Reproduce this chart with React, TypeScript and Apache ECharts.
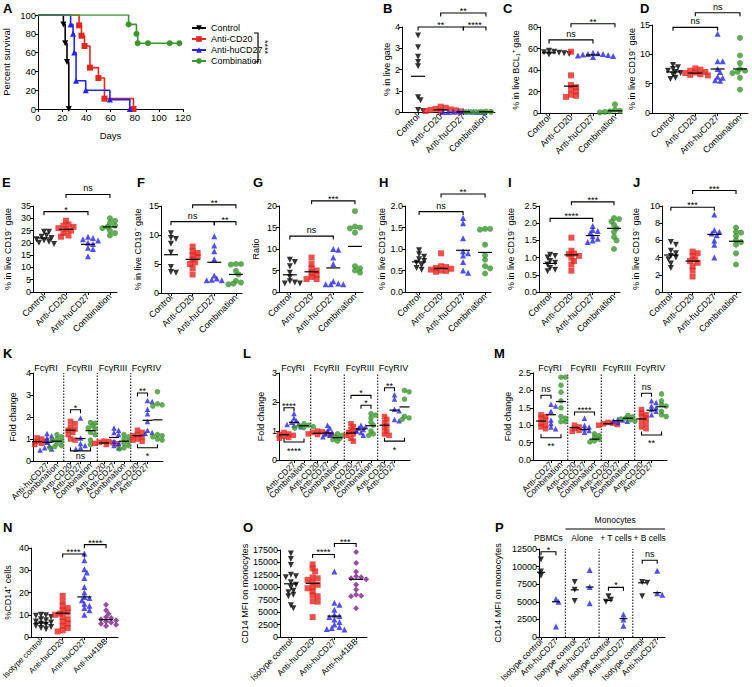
import React, { useEffect, useRef } from 'react';
import * as echarts from 'echarts';

const FONT = '"Liberation Sans", Arial, Helvetica, sans-serif';
const BLACK = '#000000';
const RED = '#e5261f';
const BLUE = '#2424ee';
const GREEN = '#3b962e';
const PURPLE = '#7d1f8a';

// ---------------- Panel A: survival ([day, percent]) ----------------
const survNames = ['Control', 'Anti-CD20', 'Anti-huCD27', 'Combination'];
const survControl = [[0, 100], [21, 90], [22.5, 70], [24, 50], [25.5, 0]];
const survCD20 = [[0, 100], [34, 89], [36, 78], [38.5, 67], [43, 44], [50, 33], [55, 11], [79, 0]];
const survCD27 = [[0, 100], [27, 90], [29, 80], [30, 60], [31.5, 30], [39.5, 20], [59.5, 10], [76, 0]];
const survCombo = [[0, 100], [75, 90], [81.5, 80], [82.5, 70], [91, 70], [109, 70], [117, 70]];

// ---------------- Rows 1-2: four treatment groups ----------------
const groups4 = ['Control', 'Anti-CD20', 'Anti-huCD27', 'Combination'];

const bControl = [3.6, 3.05, 2.6, 2.35, 2.15, 0.7, 0.55, 0.1, 0.05];
const bCD20 = [0.25, 0.2, 0.15, 0.12, 0.1, 0.08, 0.05, 0.05, 0.03];
const bCD27 = [0.03, 0.02, 0.02, 0.01, 0.01, 0.0, 0.0, 0.0, 0.0];
const bCombo = [0.02, 0.01, 0.01, 0.0, 0.0, 0.0, 0.0, 0.0, 0.0];
const bMeans = [1.68, 0.1, 0.01, 0.01];
const bBrackets: [number, number, number, string, number][] = [[0, 2, 4.0, '**', 1], [2, 3, 4.0, '****', 1], [1, 3, 4.66, '**', 1]];

const cControl = [58, 57, 56.5, 56, 55.5, 55, 55, 54.5, 56];
const cCD20 = [57, 35, 26, 24, 22, 20, 17, 15, 16];
const cCD27 = [56, 55.5, 55, 54.5, 54, 53, 52, 55, 53.5];
const cCombo = [8, 3, 2, 1.5, 1.2, 1, 0.5, 0.8];
const cMeans = [56, 25, 54, 2];
const cBrackets: [number, number, number, string, number][] = [[0, 2, 68, 'ns', 1], [1, 3, 83, '**', 1]];

const dControl = [8.2, 7.8, 7.5, 7.2, 7.0, 6.8, 6.5, 6.0, 5.8];
const dCD20 = [7.6, 7.4, 7.2, 7.0, 6.9, 6.8, 6.6, 6.5, 6.4];
const dCD27 = [13.5, 8.8, 8.8, 7.5, 7.0, 6.0, 5.6, 5.5, 6.2];
const dCombo = [12.8, 9.8, 8.5, 7.5, 7.2, 7.0, 6.8, 6.0, 4.0];
const dMeans = [7.0, 6.8, 7.5, 7.5];
const dBrackets: [number, number, number, string, number][] = [[0, 2, 14.6, 'ns', 1], [1, 3, 17.1, 'ns', 1]];

const eControl = [24.5, 24.5, 23, 22.5, 22, 21.5, 21, 20.5, 20, 19.5];
const eCD20 = [29, 27.5, 27, 26.5, 26, 25.5, 25, 24, 23, 22.5];
const eCD27 = [22.5, 22, 21.5, 21, 20, 19.5, 18, 17.5, 14.5];
const eCombo = [30, 29, 28, 27, 26.5, 26, 25, 24, 23];
const eMeans = [22, 25.5, 19.4, 26.5];
const eBrackets: [number, number, number, string, number][] = [[0, 2, 32.7, '*', 1], [1, 3, 39.7, 'ns', 1]];

const fControl = [10.3, 9.5, 9.3, 8.5, 7.0, 4.5, 3.6, 3.5];
const fCD20 = [8.0, 7.2, 6.9, 6.5, 6.2, 5.8, 5.3, 5.0, 4.3, 3.2];
const fCD27 = [9.8, 8.2, 7.2, 5.8, 3.0, 2.5, 2.3, 2.2, 2.2];
const fCombo = [5.0, 5.0, 4.9, 3.8, 3.2, 2.1, 1.8, 1.6, 1.5];
const fMeans = [6.6, 5.8, 5.3, 3.2];
const fBrackets: [number, number, number, string, number][] = [[0, 2, 12.3, 'ns', 1], [2, 3, 12.3, '**', 1], [1, 3, 15.2, '**', 1]];

const gControl = [7.5, 7.0, 6.0, 4.5, 3.5, 2.5, 2.2, 2.0, 2.0];
const gCD20 = [8.0, 6.5, 5.5, 5.0, 4.5, 4.0, 3.5, 3.0, 3.0];
const gCD27 = [10.0, 9.8, 8.0, 6.5, 2.5, 2.0, 1.8, 1.8, 1.8];
const gCombo = [18.8, 15.2, 15.0, 14.8, 13.8, 6.0, 5.5, 5.0, 4.5];
const gMeans = [4.0, 4.7, 5.6, 10.6];
const gBrackets: [number, number, number, string, number][] = [[0, 2, 13.0, 'ns', 1], [1, 3, 21.2, '***', 1]];

const hControl = [0.97, 0.88, 0.82, 0.76, 0.72, 0.68, 0.62, 0.56, 0.52];
const hCD20 = [0.9, 0.6, 0.58, 0.56, 0.54, 0.52, 0.5, 0.49, 0.47];
const hCD27 = [1.72, 1.6, 1.25, 0.95, 0.9, 0.85, 0.7, 0.5, 0.45];
const hCombo = [1.47, 1.47, 1.45, 1.1, 0.85, 0.75, 0.6, 0.55, 0.43];
const hMeans = [0.7, 0.55, 0.97, 0.92];
const hBrackets: [number, number, number, string, number][] = [[0, 2, 1.87, 'ns', 1], [1, 3, 2.28, '**', 1]];

const iControl = [1.08, 1.05, 1.0, 0.9, 0.85, 0.8, 0.7, 0.65, 0.6];
const iCD20 = [1.58, 1.2, 1.12, 1.1, 1.05, 1.0, 0.9, 0.8, 0.62];
const iCD27 = [1.92, 1.8, 1.77, 1.72, 1.62, 1.55, 1.5, 1.45];
const iCombo = [2.15, 2.12, 2.05, 1.95, 1.85, 1.75, 1.6, 1.5, 1.25];
const iMeans = [0.83, 1.08, 1.64, 1.85];
const iBrackets: [number, number, number, string, number][] = [[0, 2, 2.14, '****', 1], [1, 3, 2.62, '***', 1]];

const jControl = [5.8, 5.5, 4.8, 4.5, 4.2, 4.0, 3.8, 3.3, 2.8];
const jCD20 = [4.7, 4.5, 4.2, 3.8, 3.6, 3.4, 3.0, 2.5, 1.8];
const jCD27 = [9.0, 7.2, 7.0, 6.8, 6.6, 6.0, 5.5, 4.0];
const jCombo = [7.5, 7.0, 6.9, 6.5, 6.0, 5.8, 5.5, 4.5, 3.2];
const jMeans = [4.3, 3.6, 6.7, 5.9];
const jBrackets: [number, number, number, string, number][] = [[0, 2, 9.85, '***', 1], [1, 3, 11.8, '***', 1]];

// ---------------- Row 3: Fc gamma receptors (per receptor RI, RII, RIII, RIV) ----------------
const fcReceptors = ['FcγRI', 'FcγRII', 'FcγRIII', 'FcγRIV'];
const kLabels = ['Anti-CD20', 'Anti-huCD27', 'Combination', 'Anti-CD20', 'Anti-CD27', 'Combination', 'Anti-CD20', 'Anti-CD27', 'Combination', 'Anti-CD20', 'Anti-CD27', 'Combination'];
const lmLabels = ['Anti-CD20', 'Anti-CD27', 'Combination', 'Anti-CD20', 'Anti-CD27', 'Combination', 'Anti-CD20', 'Anti-CD27', 'Combination', 'Anti-CD20', 'Anti-CD27', 'Combination'];

const kCD20 = [[1.05, 1.0, 0.95, 0.9, 0.88, 0.85, 0.8, 0.75, 0.72], [1.8, 1.7, 1.55, 1.45, 1.4, 1.3, 1.2, 1.0, 0.95], [0.9, 0.88, 0.85, 0.82, 0.8, 0.78, 0.75], [1.4, 1.3, 1.2, 1.15, 1.1, 1.0, 0.95, 0.9]];
const kCD27 = [[1.25, 1.15, 1.05, 0.95, 0.85, 0.7, 0.6, 0.55, 0.5], [1.95, 1.05, 0.8, 0.7, 0.6, 0.55], [1.5, 1.4, 1.3, 1.2, 0.9, 0.8, 0.7, 0.6], [2.75, 2.7, 2.35, 2.15, 1.8, 1.4, 1.3, 1.25]];
const kCombo = [[1.2, 1.1, 1.0, 0.95, 0.9, 0.8, 0.7, 0.65, 0.6], [1.75, 1.72, 1.6, 1.5, 1.45, 1.3, 1.2, 0.95, 0.75], [1.2, 1.1, 1.0, 0.9, 0.8, 0.7, 0.6, 0.55], [3.15, 2.6, 2.55, 2.5, 2.45, 1.2, 1.15, 1.1, 1.0, 0.95]];
const kMeans = [[0.88, 0.85, 0.9], [1.4, 1.02, 1.38], [0.82, 1.07, 0.9], [1.15, 1.85, 1.87]];
// [receptor, fromIdx, toIdx, y, label, dir]
const kBrackets: [number, number, number, number, string, number][] = [[1, 0, 1, 2.33, '*', 1], [1, 0, 2, 0.46, 'ns', -1], [3, 0, 1, 3.09, '**', 1], [3, 0, 2, 0.6, '*', -1]];

const lCD20 = [[0.95, 0.9, 0.88, 0.85, 0.82, 0.8, 0.78, 0.75], [1.0, 0.97, 0.95, 0.92, 0.9, 0.88, 0.86], [1.25, 1.15, 1.05, 1.0, 0.95, 0.9, 0.85, 0.75, 0.65], [1.5, 1.4, 1.3, 1.2, 1.1, 1.0, 0.9, 0.85]];
const lCD27 = [[1.6, 1.45, 1.35, 1.3, 1.25, 1.22, 1.2, 1.15], [1.2, 1.1, 1.0, 0.95, 0.9, 0.85, 0.8], [1.2, 1.15, 1.1, 1.05, 1.0, 0.95, 0.85], [2.25, 2.1, 1.75, 1.7, 1.4, 1.35]];
const lCombo = [[1.25, 1.2, 1.18, 1.15, 1.12, 1.1], [0.9, 0.85, 0.8, 0.75, 0.7, 0.65], [1.6, 1.55, 1.45, 1.3, 1.2, 1.0, 0.9, 0.85], [2.4, 2.35, 2.1, 1.5, 1.45, 1.4]];
const lMeans = [[0.87, 1.3, 1.18], [0.92, 0.93, 0.77], [0.93, 1.07, 1.18], [1.2, 1.72, 1.83]];
const lBrackets: [number, number, number, number, string, number][] = [[0, 0, 1, 1.8, '****', 1], [0, 0, 2, 0.62, '****', -1], [2, 0, 2, 2.23, '*', 1], [2, 1, 2, 1.89, '*', 1], [3, 0, 1, 2.49, '**', 1], [3, 0, 2, 0.65, '*', -1]];

const mCD20 = [[1.3, 1.25, 1.2, 1.15, 1.05, 1.0, 0.95, 0.9], [1.0, 0.95, 0.9, 0.85, 0.82], [1.08, 1.06, 1.04, 1.02, 1.0], [1.45, 1.35, 1.3, 1.25, 1.2, 1.1, 1.05, 0.95, 0.9]];
const mCD27 = [[1.6, 1.55, 1.4, 1.15, 1.05, 0.95, 0.9], [1.2, 1.0, 0.95, 0.9, 0.85, 0.8], [1.18, 1.15, 1.13, 1.11, 1.08], [1.7, 1.65, 1.55, 1.5, 1.45, 1.4, 1.3]];
const mCombo = [[2.38, 2.38, 2.15, 1.95, 1.7, 1.5, 1.25, 1.2, 1.1, 1.1], [0.75, 0.7, 0.65, 0.6, 0.55, 0.52], [1.28, 1.24, 1.2, 1.18, 1.15, 1.12], [1.9, 1.7, 1.6, 1.55, 1.4, 1.3, 1.25]];
const mMeans = [[1.12, 1.3, 1.68], [0.93, 0.88, 0.6], [1.04, 1.13, 1.2], [1.18, 1.43, 1.53]];
const mBrackets: [number, number, number, number, string, number][] = [[0, 0, 1, 1.86, 'ns', 1], [0, 0, 2, 0.64, '**', -1], [1, 0, 2, 1.38, '****', 1], [3, 0, 1, 1.92, 'ns', 1], [3, 0, 2, 0.72, '**', -1]];

// ---------------- Row 4 ----------------
const humanGroups = ['Isotype control', 'Anti-huCD20', 'Anti-huCD27', 'Anti-hu41BB'];
const nIso = [10, 9.8, 9.5, 9, 8, 7.5, 7, 6.5, 6, 5.5, 5, 4.5, 4, 3.5];
const nCD20 = [18.5, 16, 14, 13, 12, 11, 10.5, 10, 9, 8, 7, 6, 5, 4, 3, 2.5];
const nCD27 = [37.5, 34.5, 30.5, 29, 26.5, 22.5, 20, 18, 17.5, 16.5, 15, 14, 13, 12, 10];
const n41BB = [14.5, 12, 10.5, 9, 8.5, 8, 7.5, 7, 6.5, 6, 5.5, 5];
const nMeans = [6.3, 10.7, 18, 7.8];
const nBrackets: [number, number, number, string, number][] = [[1, 2, 37.3, '****', 1], [2, 3, 41.5, '****', 1]];

const oIso = [16800, 15700, 14500, 12500, 12200, 12000, 11000, 10500, 10000, 9300, 9000, 8500, 8200, 6400, 5800];
const oCD20 = [14600, 13800, 13200, 12000, 11800, 11500, 11000, 10500, 10000, 9800, 9200, 8400, 8200, 7200, 7100, 4000];
const oCD27 = [13200, 6900, 6500, 5500, 4500, 4200, 4000, 3500, 3000, 2500, 2000, 1800, 1600, 1500];
const o41BB = [17100, 14900, 13100, 12200, 12000, 11800, 11600, 10500, 9500, 8500, 8300, 8200, 5800];
const oMeans = [10700, 10800, 4200, 11600];
const oBrackets: [number, number, number, string, number][] = [[1, 2, 16600, '****', 1], [2, 3, 18800, '***', 1]];

const pConditions = ['PBMCs', 'Alone', '+ T cells', '+ B cells'];
const pLabels = ['Isotype control', 'Anti-huCD27', 'Isotype control', 'Anti-huCD27', 'Isotype control', 'Anti-huCD27', 'Isotype control', 'Anti-huCD27'];
const pIso = [[11000, 9300, 8700], [7800, 6700, 5100], [5800, 5300, 5000], [7800, 7700, 5800]];
const pCD27 = [[5400, 5000, 1500], [9500, 7100, 4800], [3200, 2500, 1600], [9400, 6200, 6000]];
const pMeans = [[9200, 5000], [6700, 7100], [5200, 2600], [7700, 6300]];
const pBrackets: [number, number, number, string, number][] = [[0, 1, 12100, '*', 1], [2, 1, 7050, '*', 1], [3, 1, 10900, 'ns', 1]];

// ---------------- layout ----------------
type Geo = { left: number; top: number; width: number; height: number; xmin: number; xmax: number; ymax: number; interval: number };
const GEO: Geo[] = [
  { left: 38, top: 15, width: 145, height: 94, xmin: 0, xmax: 120, ymax: 100, interval: 20 }, // A
  { left: 402, top: 27, width: 93, height: 85, xmin: -0.71, xmax: 3.4, ymax: 4, interval: 1 }, // B
  { left: 540, top: 27, width: 82, height: 86, xmin: -0.41, xmax: 3.32, ymax: 80, interval: 20 }, // C
  { left: 652, top: 25, width: 96, height: 88, xmin: -0.94, xmax: 3.36, ymax: 15, interval: 5 }, // D
  { left: 33, top: 206, width: 84, height: 86, xmin: -0.5, xmax: 3.32, ymax: 35, interval: 5 }, // E
  { left: 161, top: 206, width: 81, height: 87, xmin: -0.46, xmax: 3.28, ymax: 15, interval: 5 }, // F
  { left: 279, top: 206, width: 84, height: 86, xmin: -0.5, xmax: 3.37, ymax: 20, interval: 5 }, // G
  { left: 405, top: 206, width: 86, height: 86, xmin: -0.64, xmax: 3.27, ymax: 2, interval: 0.5 }, // H
  { left: 539, top: 206, width: 81, height: 86, xmin: -0.52, xmax: 3.28, ymax: 2.5, interval: 0.5 }, // I
  { left: 662, top: 206, width: 79, height: 86, xmin: -0.41, xmax: 3.23, ymax: 10, interval: 2 }, // J
  { left: 33, top: 373, width: 130, height: 88, xmin: -0.4, xmax: 12.6, ymax: 4, interval: 1 }, // K
  { left: 279, top: 373, width: 131, height: 87, xmin: -0.5, xmax: 12.6, ymax: 3, interval: 1 }, // L
  { left: 533, top: 373, width: 134, height: 87, xmin: -0.8, xmax: 12.6, ymax: 2.5, interval: 0.5 }, // M
  { left: 31, top: 548, width: 87, height: 89, xmin: -0.46, xmax: 3.55, ymax: 40, interval: 10 }, // N
  { left: 280, top: 550, width: 87, height: 87, xmin: -0.5, xmax: 3.5, ymax: 17500, interval: 2500 }, // O
  { left: 539, top: 549, width: 126, height: 88, xmin: -0.13, xmax: 8.27, ymax: 12500, interval: 2500 }, // P
];
const FC_GAP = 3.35;
const P_GAP = 2.25;

function swarmOffsets(values: number[], pxPerY: number, d: number): number[] {
  const idx = values.map((_, i) => i).sort((a, b) => values[b] - values[a]);
  const placed: [number, number][] = [];
  const res = new Array(values.length).fill(0);
  const minD = d * 0.62;
  for (const i of idx) {
    const y = values[i] * pxPerY;
    let best = 0;
    for (let k = 0; k < 40; k++) {
      const c = k === 0 ? 0 : (k % 2 ? 1 : -1) * Math.ceil(k / 2) * d * 0.42;
      if (placed.every(([px, py]) => (px - c) ** 2 + (py - y) ** 2 >= minD ** 2)) { best = c; break; }
    }
    placed.push([best, y]);
    res[i] = best;
  }
  return res;
}

interface Grp { x: number; vals: number[]; mean: number; color: string; symbol: string; rot?: number }

function dotSeries(gi: number, groups: Grp[], size: number, hw: number) {
  const geo = GEO[gi];
  const pxY = geo.height / geo.ymax;
  const pxX = geo.width / (geo.xmax - geo.xmin);
  const out: any[] = [];
  groups.forEach((g) => {
    const offs = swarmOffsets(g.vals, pxY, size);
    out.push({
      type: 'scatter', xAxisIndex: gi, yAxisIndex: gi, symbol: g.symbol, symbolRotate: g.rot || 0,
      symbolSize: size, itemStyle: { color: g.color }, silent: true, z: 2,
      data: g.vals.map((v, i) => [g.x + offs[i] / pxX, v]),
    });
  });
  out.push({
    type: 'custom', xAxisIndex: gi, yAxisIndex: gi, clip: false, silent: true, z: 3,
    data: groups.map((g) => [g.x, g.mean]),
    renderItem: (_p: any, api: any) => {
      const c = api.coord([api.value(0), api.value(1)]);
      return { type: 'line', shape: { x1: c[0] - hw, y1: c[1], x2: c[0] + hw, y2: c[1] }, style: { stroke: '#000', lineWidth: 1.2 } };
    },
  });
  return out;
}

function bracketSeries(gi: number, brs: { x1: number; x2: number; y: number; label: string; dir: number }[]) {
  return {
    type: 'custom', xAxisIndex: gi, yAxisIndex: gi, clip: false, silent: true, z: 4,
    data: brs.map((b) => [b.x1, b.x2, b.y, b.dir]),
    renderItem: (p: any, api: any) => {
      const b = brs[p.dataIndex];
      const a = api.coord([b.x1, b.y]);
      const c = api.coord([b.x2, b.y]);
      const t = 3.5 * b.dir;
      const isNs = b.label === 'ns';
      let ty: number;
      if (b.dir > 0) ty = isNs ? a[1] - 1.5 : a[1] + 2.5;
      else ty = isNs ? a[1] + 1 : a[1] + 4;
      return {
        type: 'group',
        children: [
          { type: 'polyline', shape: { points: [[a[0], a[1] + t], [a[0], a[1]], [c[0], c[1]], [c[0], c[1] + t]] }, style: { stroke: '#000', lineWidth: 1.1, fill: 'none' } },
          { type: 'text', x: (a[0] + c[0]) / 2, y: ty, style: { text: b.label, fill: '#000', fontSize: 9, fontFamily: FONT, align: 'center', verticalAlign: b.dir > 0 ? 'bottom' : 'top' } },
        ],
      };
    },
  };
}

function textSeries(gi: number, items: { x: number; y: number; text: string; dy: number; size?: number }[]) {
  return {
    type: 'custom', xAxisIndex: gi, yAxisIndex: gi, clip: false, silent: true, z: 5,
    data: items.map((it) => [it.x, it.y]),
    renderItem: (p: any, api: any) => {
      const it = items[p.dataIndex];
      const c = api.coord([it.x, it.y]);
      return { type: 'text', x: c[0], y: c[1] + it.dy, style: { text: it.text, fill: '#000', fontSize: it.size || 9, fontFamily: FONT, align: 'center', verticalAlign: 'middle' } };
    },
  };
}

function segSeries(gi: number, segs: { x1: number; y1: number; x2: number; y2: number; dy: number; dash: boolean }[]) {
  return {
    type: 'custom', xAxisIndex: gi, yAxisIndex: gi, clip: false, silent: true, z: 1,
    data: segs.map((s) => [s.x1, s.y1]),
    renderItem: (p: any, api: any) => {
      const s = segs[p.dataIndex];
      const a = api.coord([s.x1, s.y1]);
      const b = api.coord([s.x2, s.y2]);
      return { type: 'line', shape: { x1: a[0], y1: a[1] + s.dy, x2: b[0], y2: b[1] + s.dy }, style: { stroke: '#000', lineWidth: s.dash ? 1 : 1.2, lineDash: s.dash ? [1.5, 1.5] : null } };
    },
  };
}

const axLine = { show: true, onZero: false, lineStyle: { color: '#000', width: 1 } };

function yAxis(gi: number, name: string, gap: number, dec = false) {
  const g = GEO[gi];
  return {
    type: 'value', gridIndex: gi, min: 0, max: g.ymax, interval: g.interval, name, nameLocation: 'middle', nameGap: gap, nameRotate: 90,
    nameTextStyle: { fontSize: 9, fontFamily: FONT, color: '#000' },
    axisLine: axLine,
    axisTick: { show: true, length: 3, lineStyle: { color: '#000', width: 1 } },
    axisLabel: { fontSize: 9, fontFamily: FONT, color: '#000', margin: 2, formatter: dec ? (v: number) => v.toFixed(1) : (v: number) => String(v) },
    splitLine: { show: false },
  };
}

function xAxisCats(gi: number, ticks: number[], labels: string[], fontSize = 9) {
  const g = GEO[gi];
  return {
    type: 'value', gridIndex: gi, min: g.xmin, max: g.xmax,
    axisLine: axLine,
    axisTick: { show: true, length: 3, customValues: ticks, lineStyle: { color: '#000', width: 1 } },
    axisLabel: {
      customValues: ticks, rotate: 45, fontSize, fontFamily: FONT, color: '#000', margin: 3,
      formatter: (v: number) => {
        let bi = 0;
        ticks.forEach((t, i) => { if (Math.abs(t - v) < Math.abs(ticks[bi] - v)) bi = i; });
        return labels[bi];
      },
    },
    splitLine: { show: false },
  };
}

function fourPanel(gi: number, sets: number[][], means: number[], colors: string[], symbols: [string, number][], brs: [number, number, number, string, number][], size = 6, hw = 7) {
  const groups: Grp[] = sets.map((vals, i) => ({ x: i, vals, mean: means[i], color: colors[i], symbol: symbols[i][0], rot: symbols[i][1] }));
  return [...dotSeries(gi, groups, size, hw), bracketSeries(gi, brs.map((b) => ({ x1: b[0], x2: b[1], y: b[2], label: b[3], dir: b[4] })))];
}

const SYM4: [string, number][] = [['triangle', 180], ['rect', 0], ['triangle', 0], ['circle', 0]];
const COL4 = [BLACK, RED, BLUE, GREEN];

function fcPanel(gi: number, cd20: number[][], cd27: number[][], combo: number[][], means: number[][], brs: [number, number, number, number, string, number][]) {
  const groups: Grp[] = [];
  const cols = [RED, BLUE, GREEN];
  const syms: [string, number][] = [['rect', 0], ['triangle', 0], ['circle', 0]];
  for (let r = 0; r < 4; r++) {
    [cd20[r], cd27[r], combo[r]].forEach((vals, i) => {
      groups.push({ x: r * FC_GAP + i, vals, mean: means[r][i], color: cols[i], symbol: syms[i][0], rot: syms[i][1] });
    });
  }
  const ymax = GEO[gi].ymax;
  const seps = [1, 2, 3].map((r) => {
    const sx = (r - 1) * FC_GAP + 2 + (FC_GAP - 2) / 2;
    return { x1: sx, y1: 0, x2: sx, y2: ymax, dy: 0, dash: true };
  });
  return [
    segSeries(gi, seps),
    ...dotSeries(gi, groups, 5.5, 5),
    bracketSeries(gi, brs.map((b) => ({ x1: b[0] * FC_GAP + b[1], x2: b[0] * FC_GAP + b[2], y: b[3], label: b[4], dir: b[5] }))),
    textSeries(gi, fcReceptors.map((t, r) => ({ x: r * FC_GAP + 0.9, y: ymax, text: t, dy: -5 }))),
  ];
}

function buildOption() {
  const grids = GEO.map((g) => ({ left: g.left, top: g.top, width: g.width, height: g.height }));
  const cat4 = [0, 1, 2, 3];
  const fcTicks: number[] = [];
  for (let r = 0; r < 4; r++) for (let i = 0; i < 3; i++) fcTicks.push(r * FC_GAP + i);
  const pTicks: number[] = [];
  for (let r = 0; r < 4; r++) for (let i = 0; i < 2; i++) pTicks.push(r * P_GAP + i);

  const xAxes: any[] = [
    {
      type: 'value', gridIndex: 0, min: 0, max: 120, interval: 20, name: 'Days', nameLocation: 'middle', nameGap: 21,
      nameTextStyle: { fontSize: 9.5, fontFamily: FONT, color: '#000' },
      axisLine: axLine, axisTick: { show: true, length: 3, lineStyle: { color: '#000' } },
      axisLabel: { fontSize: 9.5, fontFamily: FONT, color: '#000', margin: 3 }, splitLine: { show: false },
    },
    ...[1, 2, 3, 4, 5, 6, 7, 8, 9].map((gi) => xAxisCats(gi, cat4, groups4)),
    xAxisCats(10, fcTicks, kLabels, 8.5),
    xAxisCats(11, fcTicks, lmLabels, 8.5),
    xAxisCats(12, fcTicks, lmLabels, 8.5),
    xAxisCats(13, cat4, humanGroups, 8),
    xAxisCats(14, cat4, humanGroups, 8.5),
    xAxisCats(15, pTicks, pLabels, 8.5),
  ];
  const cd19 = '% in live CD19⁻ gate';
  const yAxes: any[] = [
    { ...yAxis(0, 'Percent survival', 27), nameTextStyle: { fontSize: 9.5, fontFamily: FONT, color: '#000' }, axisLabel: { fontSize: 9.5, fontFamily: FONT, color: '#000', margin: 2 } },
    yAxis(1, '% in live gate', 10),
    yAxis(2, '% in live BCL₁⁺ gate', 20),
    yAxis(3, cd19, 14),
    yAxis(4, cd19, 21),
    yAxis(5, cd19, 19),
    yAxis(6, 'Ratio', 19),
    yAxis(7, cd19, 19, true),
    yAxis(8, cd19, 24, true),
    yAxis(9, cd19, 22),
    yAxis(10, 'Fold change', 16),
    yAxis(11, 'Fold change', 14),
    yAxis(12, 'Fold change', 21, true),
    yAxis(13, '%CD14⁺ cells', 19),
    yAxis(14, 'CD14 MFI on monocytes', 28),
    yAxis(15, 'CD14 MFI on monocytes', 37),
  ];

  const survSets = [survControl, survCD20, survCD27, survCombo];
  const series: any[] = survSets.map((d, i) => ({
    type: 'line', name: survNames[i], xAxisIndex: 0, yAxisIndex: 0, step: 'end',
    symbol: SYM4[i][0], symbolRotate: SYM4[i][1], symbolSize: 6, showAllSymbol: true,
    color: COL4[i], lineStyle: { width: 1.6, color: COL4[i] }, itemStyle: { color: COL4[i] },
    data: d.map((pt, k) => (k === 0 ? { value: pt, symbol: 'none' } : pt)),
    z: 2 + i,
  }));

  series.push(...fourPanel(1, [bControl, bCD20, bCD27, bCombo], bMeans, COL4, SYM4, bBrackets));
  series.push(...fourPanel(2, [cControl, cCD20, cCD27, cCombo], cMeans, COL4, SYM4, cBrackets));
  series.push(...fourPanel(3, [dControl, dCD20, dCD27, dCombo], dMeans, COL4, SYM4, dBrackets));
  series.push(...fourPanel(4, [eControl, eCD20, eCD27, eCombo], eMeans, COL4, SYM4, eBrackets));
  series.push(...fourPanel(5, [fControl, fCD20, fCD27, fCombo], fMeans, COL4, SYM4, fBrackets));
  series.push(...fourPanel(6, [gControl, gCD20, gCD27, gCombo], gMeans, COL4, SYM4, gBrackets));
  series.push(...fourPanel(7, [hControl, hCD20, hCD27, hCombo], hMeans, COL4, SYM4, hBrackets));
  series.push(...fourPanel(8, [iControl, iCD20, iCD27, iCombo], iMeans, COL4, SYM4, iBrackets));
  series.push(...fourPanel(9, [jControl, jCD20, jCD27, jCombo], jMeans, COL4, SYM4, jBrackets));

  series.push(...fcPanel(10, kCD20, kCD27, kCombo, kMeans, kBrackets));
  series.push(...fcPanel(11, lCD20, lCD27, lCombo, lMeans, lBrackets));
  series.push(...fcPanel(12, mCD20, mCD27, mCombo, mMeans, mBrackets));

  const SYMH: [string, number][] = [['triangle', 180], ['rect', 0], ['triangle', 0], ['diamond', 0]];
  const COLH = [BLACK, RED, BLUE, PURPLE];
  series.push(...fourPanel(13, [nIso, nCD20, nCD27, n41BB], nMeans, COLH, SYMH, nBrackets, 6, 7));
  series.push(...fourPanel(14, [oIso, oCD20, oCD27, o41BB], oMeans, COLH, SYMH, oBrackets, 6, 7));

  // Panel P
  const pGroups: Grp[] = [];
  for (let r = 0; r < 4; r++) {
    pGroups.push({ x: r * P_GAP, vals: pIso[r], mean: pMeans[r][0], color: BLACK, symbol: 'triangle', rot: 180 });
    pGroups.push({ x: r * P_GAP + 1, vals: pCD27[r], mean: pMeans[r][1], color: BLUE, symbol: 'triangle', rot: 0 });
  }
  const pYmax = GEO[15].ymax;
  const pSeps = [1, 2, 3].map((r) => {
    const sx = (r - 1) * P_GAP + 1 + (P_GAP - 1) / 2;
    return { x1: sx, y1: 0, x2: sx, y2: pYmax, dy: 0, dash: true };
  });
  const monoStart = 1 + (P_GAP - 1) / 2;
  series.push(segSeries(15, [...pSeps, { x1: monoStart, y1: pYmax, x2: GEO[15].xmax, y2: pYmax, dy: -20, dash: false }]));
  series.push(...dotSeries(15, pGroups, 6, 4));
  series.push(bracketSeries(15, pBrackets.map((b) => ({ x1: b[0] * P_GAP, x2: b[0] * P_GAP + b[1], y: b[2], label: b[3], dir: b[4] }))));
  series.push(textSeries(15, [
    ...pConditions.map((t, r) => ({ x: r * P_GAP + 0.5, y: pYmax, text: t, dy: -11, size: 8.5 })),
    { x: (monoStart + GEO[15].xmax) / 2, y: pYmax, text: 'Monocytes', dy: -29, size: 8.5 },
  ]));

  const letters: [string, number, number][] = [
    ['A', 3, 2], ['B', 383, 2], ['C', 503, 2], ['D', 640, 2],
    ['E', 2, 176], ['F', 137, 176], ['G', 253, 176], ['H', 379, 176], ['I', 508, 176], ['J', 633, 176],
    ['K', 3, 347], ['L', 243, 347], ['M', 494, 347],
    ['N', 3, 521], ['O', 243, 521], ['P', 495, 521],
  ];
  const graphic: any[] = letters.map(([t, x, y]) => ({
    type: 'text', x, y, silent: true,
    style: { text: t, fill: '#000', font: `bold 13px ${FONT}`, verticalAlign: 'top' },
  }));
  graphic.push({ type: 'polyline', silent: true, shape: { points: [[254, 33], [258, 33], [258, 62], [254, 62]] }, style: { stroke: '#000', lineWidth: 1.2, fill: 'none' } });
  graphic.push({ type: 'text', x: 265, y: 47, rotation: -Math.PI / 2, silent: true, style: { text: '****', fill: '#000', font: `9px ${FONT}`, align: 'center', verticalAlign: 'middle' } });

  return {
    animation: false,
    backgroundColor: '#ffffff',
    textStyle: { fontFamily: FONT },
    grid: grids.map((g) => ({ ...g, outerBoundsMode: 'none' })),
    xAxis: xAxes,
    yAxis: yAxes,
    legend: {
      data: survNames, left: 186, top: 18, orient: 'vertical', itemWidth: 14, itemHeight: 7, itemGap: 1,
      textStyle: { fontSize: 9, fontFamily: FONT, color: '#000', lineHeight: 10 }, selectedMode: false,
    },
    series,
    graphic,
  };
}

export default function App() {
  const ref = useRef<HTMLDivElement>(null);
  useEffect(() => {
    document.body.style.margin = '0';
    const chart = echarts.init(ref.current!, undefined, { renderer: 'svg' });
    chart.setOption(buildOption() as any);
    return () => chart.dispose();
  }, []);
  return <div ref={ref} style={{ width: 752, height: 687, background: '#fff' }} />;
}
